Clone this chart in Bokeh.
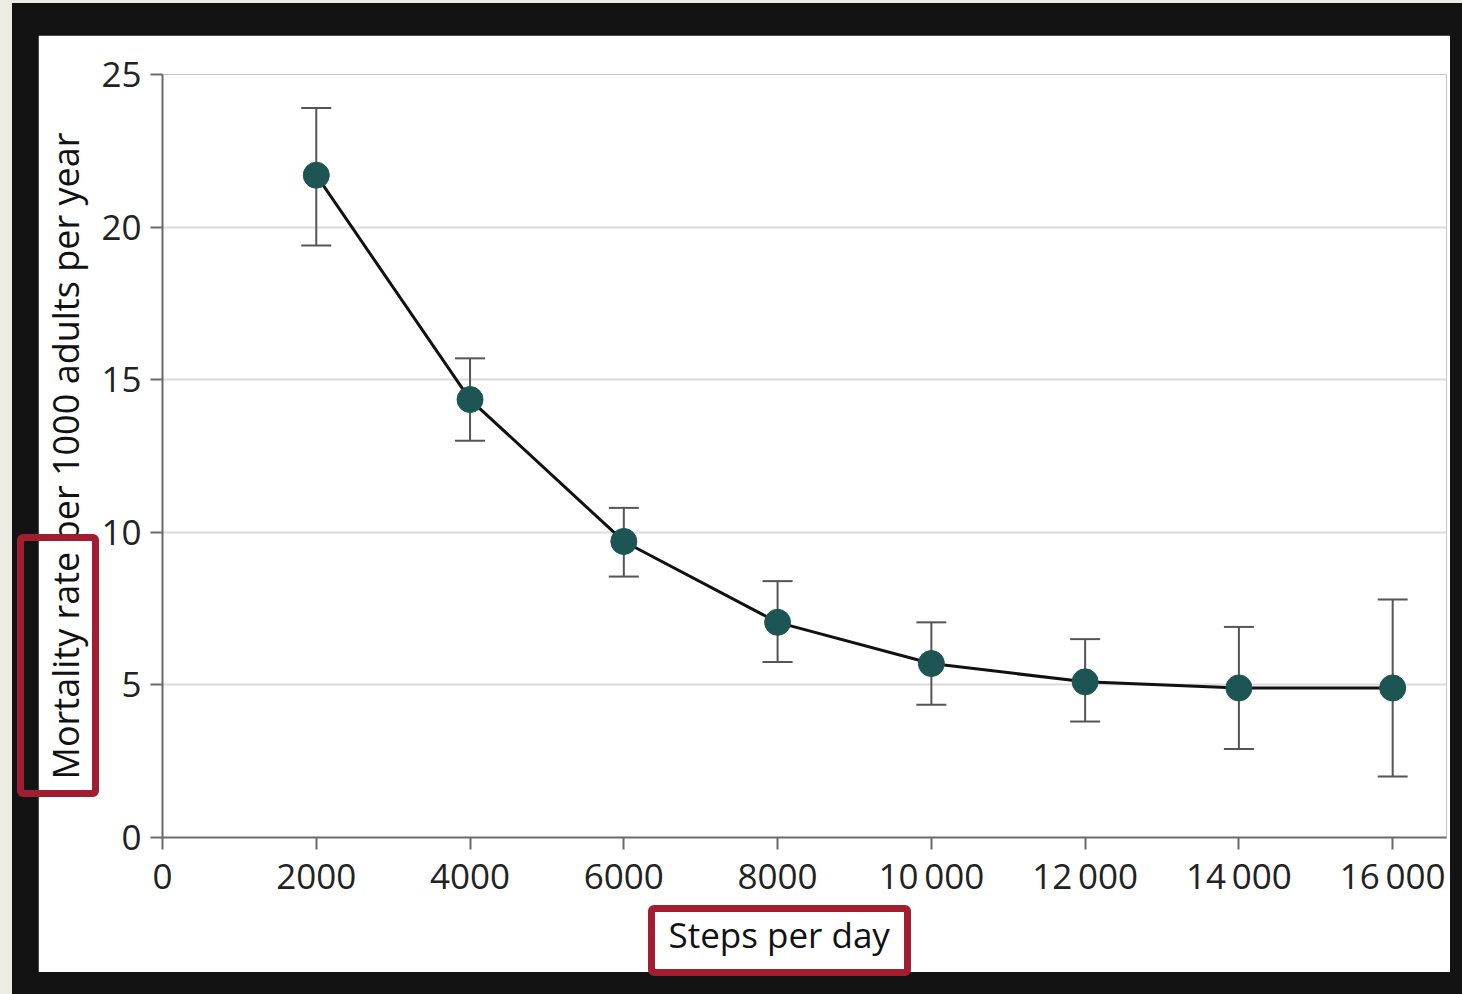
from bokeh.plotting import figure
from bokeh.models import (Range1d, FixedTicker, Whisker, TeeHead, ColumnDataSource,
                          Title, Div, Column)
from bokeh.embed import file_html
from bokeh.resources import INLINE

# ---- data ----
steps = [2000, 4000, 6000, 8000, 10000, 12000, 14000, 16000]
rate = [21.7, 14.35, 9.7, 7.05, 5.7, 5.1, 4.9, 4.9]
upper = [23.9, 15.7, 10.8, 8.4, 7.05, 6.5, 6.9, 7.8]
lower = [19.4, 13.0, 8.55, 5.75, 4.35, 3.8, 2.9, 2.0]
x_ticks = [0, 2000, 4000, 6000, 8000, 10000, 12000, 14000, 16000]
x_tick_labels = ["0", "2000", "4000", "6000", "8000",
                 "10\u2009000", "12\u2009000", "14\u2009000", "16\u2009000"]
y_ticks = [0, 5, 10, 15, 20, 25]
x_title = "Steps per day"
y_title = "Mortality rate per 1000 adults per year"

# ---- layout (page pixels) ----
W, H = 1462, 994
PANEL_L, PANEL_R, PANEL_T, PANEL_B = 38, 1450, 35, 972
FRAME_L, FRAME_R, FRAME_T, FRAME_B = 162, 1446, 74, 837
X_END = 16700
Y_END = 25
DARK, BEIGE, RED = "#131313", "#ecebe4", "#a31d30"

src = ColumnDataSource(dict(x=steps, y=rate, up=upper, lo=lower))

p = figure(width=PANEL_R - PANEL_L, height=PANEL_B - PANEL_T,
           output_backend="svg", toolbar_location=None,
           x_range=Range1d(0, X_END), y_range=Range1d(0, Y_END),
           min_border_left=FRAME_L - PANEL_L, min_border_right=PANEL_R - FRAME_R,
           min_border_top=FRAME_T - PANEL_T, min_border_bottom=PANEL_B - FRAME_B,
           border_fill_color="white", background_fill_color="white",
           margin=(PANEL_T, W - PANEL_R, H - PANEL_B, PANEL_L))
p.outline_line_color = None

# axes
for ax in (p.xaxis[0], p.yaxis[0]):
    ax.axis_line_color = "#6a6a6a"
    ax.axis_line_width = 2
    ax.major_tick_line_color = "#6a6a6a"
    ax.major_tick_line_width = 2
    ax.major_tick_out = 12
    ax.major_tick_in = 0
    ax.minor_tick_line_color = None
    ax.major_label_text_font = "Open Sans"
    ax.major_label_text_font_size = "35px"
    ax.major_label_text_color = "#222222"
    ax.axis_label_text_font = "Open Sans"
    ax.axis_label_text_font_size = "36px"
    ax.axis_label_text_font_style = "normal"
    ax.axis_label_text_color = "#111111"

p.xaxis.ticker = FixedTicker(ticks=x_ticks)
p.xaxis.major_label_overrides = {t: lab for t, lab in zip(x_ticks, x_tick_labels)}
p.xaxis.major_label_standoff = 2
p.yaxis.ticker = FixedTicker(ticks=y_ticks)
p.yaxis.major_label_standoff = 9
p.yaxis.axis_label = y_title
p.yaxis.axis_label_standoff = 8

p.xgrid.visible = False
p.ygrid.ticker = FixedTicker(ticks=y_ticks)
p.ygrid.grid_line_color = "#dcdcdc"
p.ygrid.grid_line_width = 2

# error bars
p.add_layout(Whisker(base="x", upper="up", lower="lo", source=src,
                     line_color="#555555", line_width=2,
                     upper_head=TeeHead(size=30, line_color="#555555", line_width=2),
                     lower_head=TeeHead(size=30, line_color="#555555", line_width=2)))

p.line("x", "y", source=src, line_color="#111111", line_width=3)
p.scatter("x", "y", source=src, size=26, fill_color="#1d5555", line_color="#1d5555")

# x-axis title, centred under the 0..16000 span
p.add_layout(Title(text=x_title, align="left", offset=506, standoff=14,
                   text_font="Open Sans", text_font_size="35px",
                   text_font_style="normal", text_color="#111111"), "below")


def box(left, top, width, height, **css):
    st = {"position": "absolute", "left": f"{left}px", "top": f"{top}px",
          "width": f"{width}px", "height": f"{height}px",
          "box-sizing": "border-box", "pointer-events": "none", "z-index": "10"}
    st.update(css)
    return Div(text="", width=width, height=height, styles=st, margin=0)


decor = [
    box(0, 0, 12, H, **{"background-color": BEIGE}),
    box(0, 0, W, 3, **{"background-color": BEIGE}),
    box(17, 534, 82, 263, border=f"7px solid {RED}", **{"border-radius": "6px"}),
    box(648, 905, 263, 71, border=f"7px solid {RED}", **{"border-radius": "6px"}),
]

root = Column(children=[p] + decor, width=W, height=H, spacing=0,
              styles={"position": "relative", "background-color": DARK})

open("out.html", "w").write(file_html(root, INLINE))
